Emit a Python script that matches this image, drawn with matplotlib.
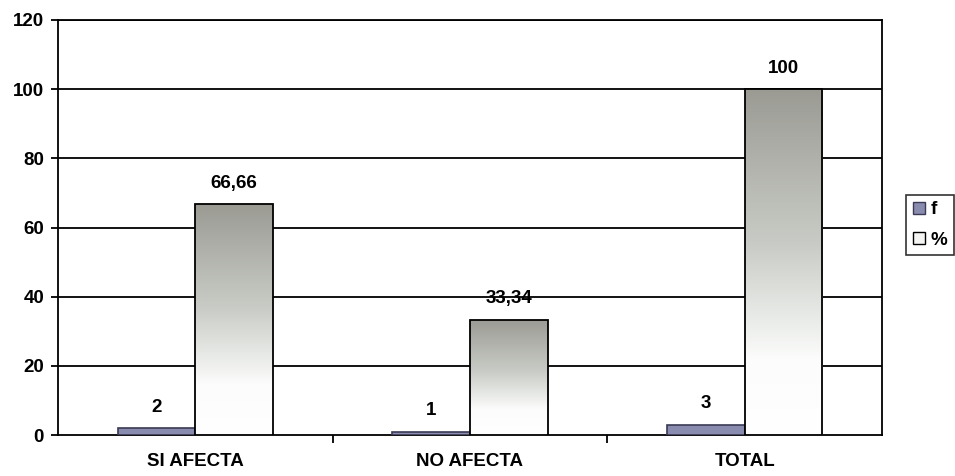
import matplotlib
matplotlib.use("Agg")
import matplotlib.pyplot as plt
import numpy as np
from matplotlib.patches import Patch
from matplotlib.colors import LinearSegmentedColormap

plt.rcParams['font.family'] = ['Liberation Sans', 'DejaVu Sans']
plt.rcParams['font.weight'] = 'bold'

categories = ["SI AFECTA", "NO AFECTA", "TOTAL"]
f_values = [2, 1, 3]
pct_values = [66.66, 33.34, 100]
f_labels = ["2", "1", "3"]
pct_labels = ["66,66", "33,34", "100"]
series_names = ["f", "%"]

FS = 13.5

fig = plt.figure(figsize=(9.55, 4.76), dpi=100)
ax = fig.add_axes([58/955, 41/476, (882-58)/955, (435-20)/476])

x = np.arange(len(categories))
w = 0.283
f_color = "#8a8caf"
f_edge = "#3a3a55"

ax.set_ylim(0, 120)
ax.set_xlim(-0.5, len(categories) - 0.5)
ax.set_yticks(np.arange(0, 121, 20))
for yv in range(20, 121, 20):
    ax.axhline(yv, color="black", lw=1.3, zorder=1)

fb = ax.bar(x - w/2, f_values, w, color=f_color, edgecolor=f_edge, lw=1.2, zorder=3)
pb = ax.bar(x + w/2, pct_values, w, facecolor="none", edgecolor="black", lw=1.3, zorder=4)

cmap = LinearSegmentedColormap.from_list("g", [(0.0, "#ffffff"), (0.22, "#fbfcfb"),
                                               (0.55, "#c9ccc6"), (1.0, "#9b9b94")])
grad = np.linspace(0, 1, 256).reshape(-1, 1)
for bar in pb:
    bx, by = bar.get_x(), bar.get_y()
    bw, bh = bar.get_width(), bar.get_height()
    im = ax.imshow(grad, cmap=cmap, aspect="auto", origin="lower",
                   extent=[bx, bx + bw, by, by + bh], zorder=3.5)
    im.set_clip_path(bar)
ax.set_xlim(-0.5, len(categories) - 0.5)
ax.set_ylim(0, 120)

for bar, lab in zip(fb, f_labels):
    ax.annotate(lab, (bar.get_x() + bar.get_width()/2, bar.get_height()),
                xytext=(0, 9), textcoords="offset points", ha="center", va="bottom",
                fontsize=FS, fontweight="bold")
for bar, lab in zip(pb, pct_labels):
    ax.annotate(lab, (bar.get_x() + bar.get_width()/2, bar.get_height()),
                xytext=(0, 9), textcoords="offset points", ha="center", va="bottom",
                fontsize=FS, fontweight="bold")

ax.set_xticks(x)
ax.set_xticklabels(categories, fontsize=FS, fontweight="bold")
ax.tick_params(axis="x", which="major", length=0, pad=13)
ax.set_xticks(np.arange(0.5, len(categories) - 0.5, 1), minor=True)
ax.tick_params(axis="x", which="minor", length=6, width=1.3, direction="out")
ax.tick_params(axis="y", length=5, width=1.3, labelsize=FS, pad=5)
for t in ax.get_yticklabels():
    t.set_fontweight("bold")

for s in ax.spines.values():
    s.set_linewidth(1.3)
    s.set_color("black")

handles = [Patch(facecolor=f_color, edgecolor=f_edge, label=series_names[0]),
           Patch(facecolor="#f4f4f2", edgecolor="black", label=series_names[1])]
leg = fig.legend(handles=handles, loc="center left", bbox_to_anchor=(906/955, 251/476),
                 frameon=True, fancybox=False, edgecolor="black", fontsize=FS,
                 handlelength=0.65, handleheight=0.65, handletextpad=0.3,
                 borderpad=0.35, labelspacing=0.7, borderaxespad=0)
leg.get_frame().set_linewidth(1.2)
for t in leg.get_texts():
    t.set_fontweight("bold")

fig.savefig("out.png", dpi=100)
